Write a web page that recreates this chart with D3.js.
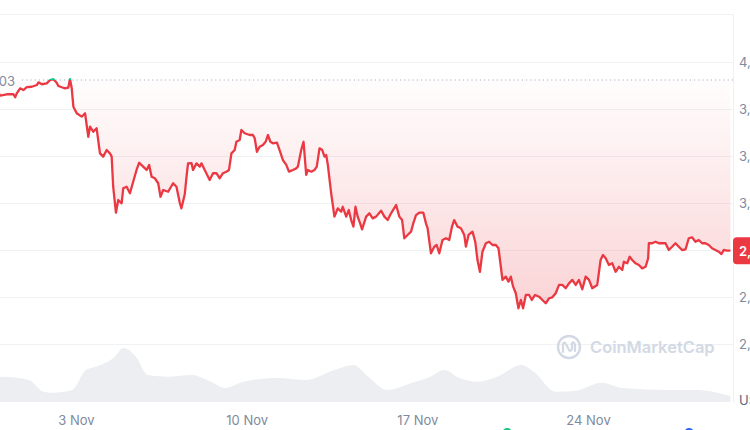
<!DOCTYPE html>
<meta charset="utf-8">
<style>
    body { margin: 0; background: #fff; }
    text { font-family: Inter, "Noto Sans", sans-serif; }
    .grid line { stroke: #eff2f5; stroke-width: 1; }
    .axis text { fill: #808a9d; font-size: 13px; }
</style>
<body>
<svg width="750" height="430"></svg>
</body>
<script src="https://d3js.org/d3.v7.min.js"></script>
<script>
    // hours since 1 Nov 00:00, and price
    const priceHours = [-34.5, -30.6, -26.7, -20.1, -13.6, -11.9, -10.3, -7.0, -3.8, -0.4, 4.5, 9.4, 11.0, 14.3, 19.2, 22.5, 25.7, 29.0, 30.6, 34.0,
        37.2, 40.4, 42.1, 43.8, 45.4, 48.7, 53.6, 56.9, 58.5, 60.1, 61.8, 65.0, 68.3, 71.6, 74.8, 78.2, 81.4, 83.1, 84.6, 87.3,
        89.6, 92.9, 94.5, 97.8, 101.1, 104.3, 107.6, 110.2, 114.1, 117.5, 120.0, 122.4, 125.6, 128.9, 131.2, 133.8, 138.7, 143.6, 146.9, 150.2,
        151.8, 155.1, 156.8, 158.3, 161.7, 163.2, 166.6, 169.8, 171.5, 174.7, 178.0, 179.6, 182.9, 186.2, 189.5, 192.7, 196.0, 198.6, 201.0, 204.2,
        205.9, 209.1, 210.8, 214.0, 219.0, 222.2, 223.9, 226.1, 228.8, 232.0, 234.7, 236.9, 239.3, 241.8, 245.8, 248.4, 251.7, 255.0, 257.6, 261.5,
        264.8, 266.4, 269.7, 272.0, 274.6, 276.2, 279.6, 282.8, 285.0, 287.7, 290.4, 292.6, 294.3, 295.9, 299.2, 302.4, 305.7, 309.0, 310.6, 314.0,
        316.5, 318.9, 321.1, 323.1, 325.3, 327.7, 329.6, 333.6, 336.8, 340.1, 343.4, 348.3, 351.6, 354.8, 358.1, 363.1, 366.3, 369.0, 371.2, 374.4,
        377.8, 380.0, 382.7, 385.9, 389.9, 392.5, 394.1, 397.4, 400.7, 403.0, 405.6, 408.8, 412.2, 415.4, 418.1, 420.3, 423.6, 426.9, 430.2, 431.8,
        434.4, 438.3, 441.0, 443.2, 445.6, 448.1, 451.5, 454.7, 458.0, 461.3, 463.9, 466.2, 467.8, 471.1, 473.7, 476.0, 478.3, 480.9, 483.5, 485.9,
        488.1, 490.8, 494.0, 496.7, 499.9, 503.8, 507.1, 510.4, 513.7, 516.9, 520.2, 523.5, 526.7, 530.1, 533.3, 536.6, 539.9, 543.1, 546.4, 549.7,
        553.0, 556.2, 561.1, 564.4, 566.7, 569.4, 572.6, 575.9, 579.2, 582.4, 585.7, 587.3, 590.6, 593.0, 595.5, 598.8, 602.1, 605.3, 608.7, 611.2,
        611.9, 615.1, 618.5, 621.7, 628.3, 631.5, 634.8, 638.1, 641.4, 644.6, 648.0, 651.2, 654.4, 657.8, 661.0, 664.3, 667.6, 670.8, 674.1, 677.4,
        680.7, 683.3, 685.6, 688.8, 692.2];
    const prices = [3885.03, 3834, 3785, 3794, 3794, 3775, 3800, 3832, 3821, 3839, 3842, 3853, 3870, 3858, 3864, 3885, 3890, 3868, 3847, 3839,
        3832, 3836, 3891, 3832, 3715, 3673, 3651, 3673, 3598, 3523, 3587, 3555, 3577, 3417, 3396, 3438, 3417, 3396, 3204, 3038,
        3119, 3098, 3194, 3204, 3162, 3236, 3311, 3357, 3332, 3311, 3343, 3268, 3258, 3226, 3140, 3183, 3172, 3226, 3204, 3100,
        3066, 3157, 3268, 3353, 3355, 3311, 3353, 3332, 3353, 3311, 3268, 3247, 3290, 3290, 3258, 3290, 3300, 3311, 3417, 3438,
        3491, 3502, 3566, 3545, 3534, 3534, 3513, 3427, 3459, 3470, 3491, 3534, 3491, 3481, 3485, 3438, 3374, 3343, 3300, 3311,
        3321, 3332, 3438, 3491, 3279, 3311, 3300, 3311, 3332, 3449, 3438, 3396, 3406, 3343, 3162, 3013, 3066, 3044, 3076, 3013,
        3055, 2991, 2949, 3076, 3013, 2970, 2932, 3013, 3034, 3002, 3013, 3051, 3013, 2991, 3034, 3087, 3013, 2991, 2875, 2896,
        2917, 2970, 3023, 3038, 3038, 2970, 2939, 2779, 2821, 2832, 2779, 2864, 2875, 2864, 2949, 2991, 2949, 2939, 2896, 2821,
        2896, 2917, 2853, 2736, 2661, 2789, 2843, 2853, 2832, 2832, 2811, 2693, 2609, 2630, 2598, 2630, 2566, 2524, 2428, 2481,
        2428, 2513, 2513, 2481, 2513, 2502, 2481, 2460, 2492, 2498, 2524, 2577, 2577, 2556, 2587, 2609, 2577, 2609, 2549, 2630,
        2609, 2556, 2577, 2736, 2768, 2747, 2704, 2715, 2661, 2693, 2672, 2725, 2715, 2757, 2736, 2715, 2704, 2683, 2693, 2747,
        2843, 2843, 2853, 2843, 2843, 2800, 2821, 2843, 2821, 2800, 2804, 2875, 2881, 2853, 2864, 2843, 2843, 2832, 2811, 2800,
        2789, 2774, 2800, 2796, 2796];

    // volume (hours since 1 Nov, arbitrary units)
    const volumeHours = [-34.5, -26.7, 1.8, 15.6, 25.4, 44.1, 57.8, 67.6, 86.3, 94.7, 107.0, 118.7, 138.4, 162.0, 180.6, 194.4, 213.0, 246.4, 274.0,
        302.4, 321.1, 335.8, 354.5, 378.1, 396.8, 410.5, 425.2, 443.9, 462.6, 486.2, 500.0, 519.6, 538.2, 565.7, 585.4, 631.5, 660.0, 688.5, 692.2];
    const volumes = [24, 25.3, 22, 10.3, 9.3, 12, 32, 35.3, 45.3, 54, 45.3, 27, 25.3, 27, 20.3, 14, 20.3, 24, 22,
        32, 37, 25.3, 12, 19, 25.3, 32, 24, 20.3, 25.3, 37, 29, 10.3, 11, 19.3, 14, 12, 12, 7, 6];

    const priceTicks = [2200, 2500, 2800, 3100, 3400, 3700, 4000];
    const dateTicks = [3, 10, 17, 24];
    const events = [[472.5, "#16c784"], [651.5, "#3861fb"]];

    const start = new Date(2021, 10, 1);
    const toDate = h => new Date(start.getTime() + h * 3600e3);

    const svg = d3.select("svg");
    const red = "#ea3943", green = "#16c784";

    const x = d3.scaleTime()
        .domain([new Date(2021, 10, 3), new Date(2021, 10, 24)])
        .range([76, 588]);
    const y = d3.scaleLinear().domain([2200, 4000]).range([344, 62]);
    const yv = d3.scaleLinear().domain([0, 60]).range([402, 342]);

    const plotRight = 733;
    const data = priceHours.map((h, i) => ({t: toDate(h), p: prices[i]}));
    const vol = volumeHours.map((h, i) => ({t: toDate(h), v: volumes[i]}));
    const base = prices[0];
    const baseY = y(base);
    const last = data[data.length - 1];

    // frame + grid
    const grid = svg.append("g").attr("class", "grid");
    grid.append("line").attr("x1", 0).attr("x2", plotRight).attr("y1", 14.5).attr("y2", 14.5);
    grid.selectAll("line.h")
        .data(priceTicks)
        .enter().append("line")
        .attr("class", "h")
        .attr("x1", 0).attr("x2", plotRight)
        .attr("y1", d => Math.round(y(d)) + 0.5)
        .attr("y2", d => Math.round(y(d)) + 0.5);
    grid.append("line").attr("x1", plotRight + 0.5).attr("x2", plotRight + 0.5).attr("y1", 14).attr("y2", 402);

    // volume
    svg.append("path")
        .datum(vol)
        .attr("fill", "#eceef2")
        .attr("d", d3.area().curve(d3.curveMonotoneX)
            .x(d => x(d.t)).y0(yv(0)).y1(d => yv(d.v)));

    // watermark
    const wm = svg.append("g").attr("transform", "translate(569,347)");
    wm.append("circle").attr("r", 11).attr("fill", "none").attr("stroke", "#d3d9e4").attr("stroke-width", 2.4);
    wm.append("path")
        .attr("d", "M-6,5 L-6,-3 Q-5,-6 -3,-3 L0,3 Q1.5,5 3,2 L3,-4 Q5,-6 6,-2 L6,4")
        .attr("fill", "none").attr("stroke", "#d3d9e4").attr("stroke-width", 2.2).attr("stroke-linecap", "round");
    svg.append("text")
        .attr("x", 590).attr("y", 347)
        .attr("dominant-baseline", "central")
        .attr("fill", "#d3d9e4")
        .attr("font-size", 16.5).attr("font-weight", 600)
        .text("CoinMarketCap");

    // gradient for the area between the line and the opening price
    const defs = svg.append("defs");
    const grad = defs.append("linearGradient").attr("id", "redfill")
        .attr("gradientUnits", "userSpaceOnUse")
        .attr("x1", 0).attr("x2", 0).attr("y1", baseY).attr("y2", y(d3.min(prices)));
    grad.append("stop").attr("offset", 0).attr("stop-color", red).attr("stop-opacity", 0.01);
    grad.append("stop").attr("offset", 1).attr("stop-color", red).attr("stop-opacity", 0.22);

    defs.append("clipPath").attr("id", "below")
        .append("rect").attr("x", -50).attr("y", baseY).attr("width", 900).attr("height", 400);
    defs.append("clipPath").attr("id", "above")
        .append("rect").attr("x", -50).attr("y", 0).attr("width", 900).attr("height", baseY);

    const area = d3.area().x(d => x(d.t)).y0(baseY).y1(d => y(d.p));
    const line = d3.line().x(d => x(d.t)).y(d => y(d.p));

    svg.append("path").datum(data)
        .attr("clip-path", "url(#below)")
        .attr("fill", "url(#redfill)")
        .attr("d", area);

    // opening price reference
    svg.append("line")
        .attr("x1", 22).attr("x2", plotRight)
        .attr("y1", baseY).attr("y2", baseY)
        .attr("stroke", "#a6b0c3").attr("stroke-width", 1)
        .attr("stroke-dasharray", "1.2,3");
    svg.append("text")
        .attr("x", 15).attr("y", baseY + 1)
        .attr("text-anchor", "end").attr("dominant-baseline", "central")
        .attr("fill", "#808a9d").attr("font-size", 13)
        .text(d3.format(",.2f")(base));

    svg.append("path").datum(data)
        .attr("clip-path", "url(#below)")
        .attr("fill", "none").attr("stroke", red).attr("stroke-width", 2.3)
        .attr("stroke-linejoin", "round")
        .attr("d", line);
    svg.append("path").datum(data)
        .attr("clip-path", "url(#above)")
        .attr("fill", "none").attr("stroke", green).attr("stroke-width", 2.3)
        .attr("stroke-linejoin", "round")
        .attr("d", line);

    // axes (the tick hidden behind the price badge is left out)
    const shownTicks = priceTicks.filter(d => Math.abs(y(d) - y(last.p)) > 14);
    svg.append("g")
        .attr("class", "axis")
        .attr("transform", `translate(${plotRight},0)`)
        .call(d3.axisRight(y).tickValues(shownTicks).tickSize(0).tickPadding(6).tickFormat(d3.format(",")))
        .call(g => g.select(".domain").remove())
        .selectAll("text").attr("font-family", null).attr("font-size", null);

    svg.append("text")
        .attr("x", 739).attr("y", 400)
        .attr("dominant-baseline", "central")
        .attr("fill", "#58667e").attr("font-size", 13)
        .text("USD");

    svg.append("g")
        .attr("class", "axis")
        .attr("transform", "translate(0,410)")
        .call(d3.axisBottom(x)
            .tickValues(dateTicks.map(d => new Date(2021, 10, d)))
            .tickSize(0).tickPadding(6)
            .tickFormat(d3.timeFormat("%-d %b")))
        .call(g => g.select(".domain").remove())
        .selectAll("text").attr("font-family", null).attr("font-size", null);

    // event markers peeking from below
    svg.selectAll("circle.ev")
        .data(events)
        .enter().append("circle")
        .attr("class", "ev")
        .attr("cx", d => x(toDate(d[0])))
        .attr("cy", 433)
        .attr("r", 5)
        .attr("fill", d => d[1]);

    // current price badge
    const badge = svg.append("g").attr("transform", `translate(${plotRight},${y(last.p)})`);
    badge.append("rect")
        .attr("x", 0).attr("y", -13.5).attr("width", 70).attr("height", 27).attr("rx", 4)
        .attr("fill", red);
    badge.append("text")
        .attr("x", 6).attr("y", 0)
        .attr("dominant-baseline", "central")
        .attr("fill", "#fff").attr("font-size", 13).attr("font-weight", 600)
        .text(d3.format(",.2f")(last.p));
</script>
